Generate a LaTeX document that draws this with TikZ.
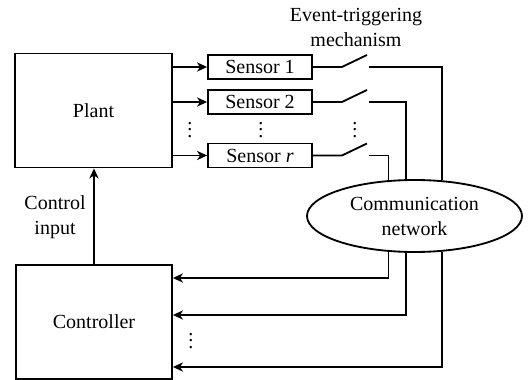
\documentclass[tikz,border=0pt]{standalone}
\usepackage{fontspec}
\setmainfont{Liberation Serif}
\usetikzlibrary{calc,shapes.geometric,arrows.meta}

\begin{document}
\begin{tikzpicture}[x=0.6pt,y=-0.6pt,line width=1.1pt,>={Stealth[length=6pt,width=5.5pt,inset=1.8pt]},
  font=\rmfamily\fontsize{12}{15}\selectfont,
  blk/.style={draw,rectangle,inner sep=0pt},
  sens/.style={blk,minimum width=62.4pt,minimum height=14.4pt}]
\useasboundingbox (0,0) rectangle (530,380);
\node[blk,minimum width=94.2pt,minimum height=68.4pt] (plant) at (93.5,110.5) {Plant};
\node[blk,minimum width=93.6pt,minimum height=68.4pt] (ctrl) at (94,322) {Controller};
\node[draw,ellipse,inner sep=0pt,minimum width=129pt,minimum height=43.2pt,align=center] (net) at (414.5,216) {Communication\\network};
\node[align=center] (etm) at (356,27) {Event-triggering\\mechanism};
\node[align=center] (cin) at (55,217) {Control\\input};
\draw[->] (ctrl.north) -- (ctrl.north |- plant.south);
% sensors, switches and the lines through the network
\foreach \n/\y/\t/\a/\b/\v in {1/67/1/52/-52/367,2/102/2/103/-103/315,r/155.5/\textit{r}/126/-126/278} {
\node[sens] (s\n) at (260,\y) {Sensor \t};
\draw[->] (plant.east |- s\n) -- (s\n);
\draw (s\n.east) -- ++(29,0) coordinate (k\n) -- ++(25,-12);
\draw ($(k\n)+(27,0)$) coordinate (c\n) -| (net.\a);
\coordinate (in\n) at (ctrl.east |- 0,\v);
\draw[->] (net.\b) |- (in\n);}
\foreach \x/\y/\i in {190/125/1,261/125/2,355/125/3,191/336/4}
\node[inner sep=0pt] (dots\i) at (\x,\y) {$\vdots$};
\end{tikzpicture}
\end{document}
